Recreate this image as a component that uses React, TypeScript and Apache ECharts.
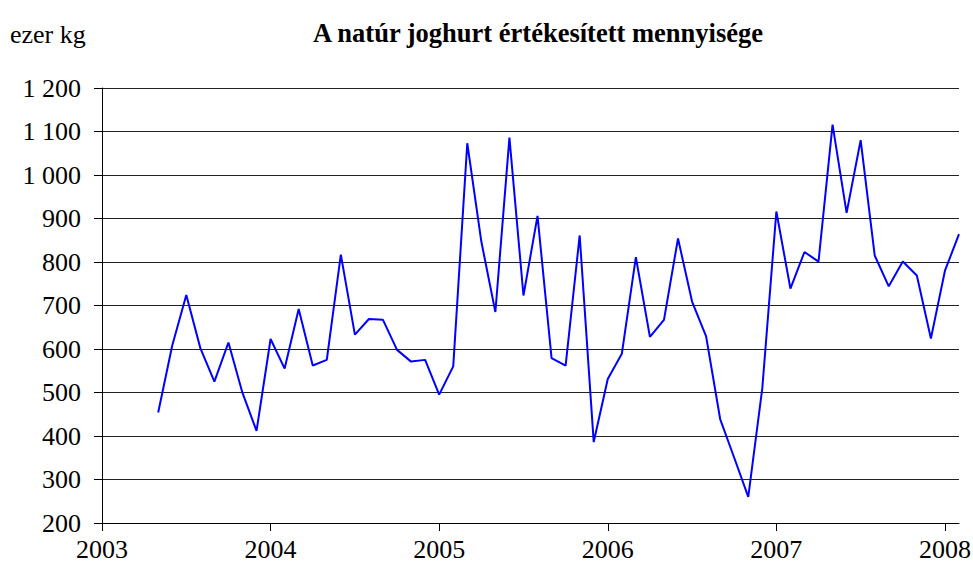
import React, { useEffect, useRef } from "react";
import * as echarts from "echarts";

// month index (0 = Jan 2003)
const monthIndex: number[] = [
  4, 5, 6, 7, 8, 9, 10, 11, 12, 13, 14, 15, 16, 17, 18, 19, 20, 21, 22, 23, 24, 25, 26, 27, 28, 29,
  30, 31, 32, 33, 34, 35, 36, 37, 38, 39, 40, 41, 42, 43, 44, 45, 46, 47, 48, 49, 50, 51, 52, 53,
  54, 55, 56, 57, 58, 59, 60, 61,
];
const values: number[] = [
  454, 608, 724, 602, 525, 615, 499, 412, 623, 555, 692, 562, 575, 817, 633, 669, 667, 598, 571,
  575, 495, 560, 1073, 847, 685, 1086, 723, 906, 579, 562, 861, 386, 531, 589, 811, 628, 667, 854,
  709, 629, 439, 350, 260, 510, 916, 739, 823, 801, 1116, 913, 1080, 815, 744, 801, 769, 624, 780,
  864,
];
const yearTicks: number[] = [0, 12, 24, 36, 48, 60];
const firstYear = 2003;
const titleText = "A natúr joghurt értékesített mennyisége";
const unitText = "ezer kg";

const serif = "Liberation Serif";

export default function App() {
  const ref = useRef<HTMLDivElement>(null);
  useEffect(() => {
    if (!ref.current) return;
    const chart = echarts.init(ref.current, undefined, { renderer: "svg" });
    chart.setOption({
      animation: false,
      backgroundColor: "#ffffff",
      textStyle: { fontFamily: serif },
      title: {
        text: titleText,
        left: 533,
        textAlign: "center",
        top: 14,
        textStyle: { fontFamily: serif, fontWeight: "bold", fontSize: 26.5, color: "#000" },
      },
      graphic: [
        {
          type: "text",
          left: 10,
          top: 21,
          style: { text: unitText, fontFamily: serif, fontSize: 26, fill: "#000" },
        },
      ],
      grid: {
        left: 102,
        right: 14,
        top: 88,
        bottom: 53,
        containLabel: false,
        outerBoundsMode: "none",
      },
      xAxis: {
        type: "value",
        min: 0,
        max: 61,
        interval: 12,
        axisLine: { show: true, lineStyle: { color: "#000", width: 1 } },
        axisTick: { show: true, length: 8, customValues: yearTicks, lineStyle: { color: "#000" } },
        axisLabel: {
          customValues: yearTicks,
          formatter: (v: number) => String(firstYear + v / 12),
          margin: 13,
          fontFamily: serif,
          fontSize: 26,
          color: "#000",
        },
        splitLine: { show: false },
      },
      yAxis: {
        type: "value",
        min: 200,
        max: 1200,
        interval: 100,
        axisLine: { show: true, lineStyle: { color: "#000", width: 1 } },
        axisTick: { show: true, length: 8, lineStyle: { color: "#000" } },
        axisLabel: {
          formatter: (v: number) => String(v).replace(/\B(?=(\d{3})+(?!\d))/g, " "),
          margin: 21,
          fontFamily: serif,
          fontSize: 26,
          color: "#000",
        },
        splitLine: { show: true, lineStyle: { color: "#222", width: 1 } },
      },
      series: [
        {
          type: "line",
          data: monthIndex.map((m, i) => [m, values[i]]),
          showSymbol: false,
          symbol: "none",
          lineStyle: { color: "#0000ff", width: 2 },
        },
      ],
    });
    return () => chart.dispose();
  }, []);
  return (
    <div
      ref={ref}
      style={{ position: "fixed", left: 0, top: 0, width: 973, height: 576, background: "#fff" }}
    />
  );
}
